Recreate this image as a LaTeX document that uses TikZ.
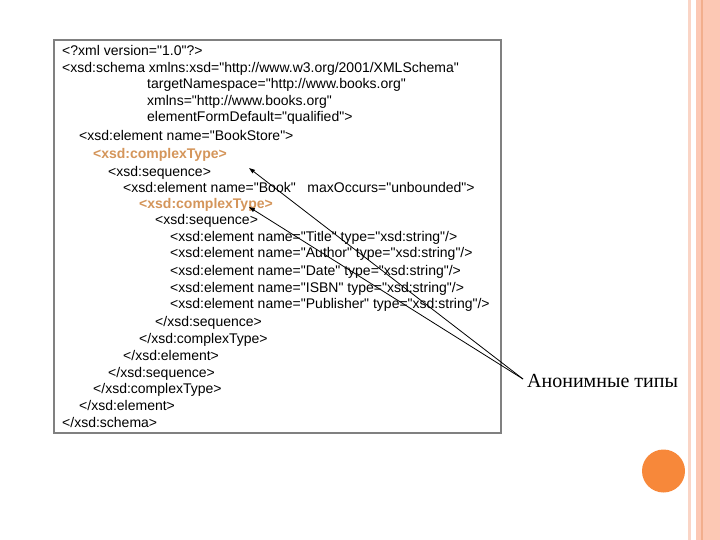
\documentclass[tikz,border=0pt]{standalone}
\usepackage{fontspec}
\setmainfont{Liberation Sans}[Ligatures=TeXOff]
\newfontfamily\serifru{Liberation Serif}
\usetikzlibrary{arrows.meta}
\definecolor{codeorange}{HTML}{D4955A}
\definecolor{boxgray}{HTML}{808080}
\definecolor{stripelight}{HTML}{FAD5C6}
\definecolor{stripeband}{HTML}{FCC8B4}
\definecolor{stripedark}{HTML}{F2AE8C}
\definecolor{dotorange}{HTML}{F7883A}
\tikzset{
  code/.style={anchor=base west, inner sep=0pt, font=\fontsize{14}{16}\selectfont},
  hot/.style={code, text=codeorange, font=\fontsize{14}{16}\selectfont\bfseries},
  pointer/.style={draw=black, line width=0.8pt, -{Triangle[length=6pt,width=4pt]}},
}
\begin{document}
\begin{tikzpicture}[x=1pt,y=-1pt]
\useasboundingbox (0,0) rectangle (720,540);
% right decorative stripes
\fill[stripelight] (688,0) rectangle (691,540);
\fill[stripeband] (696,0) rectangle (720,540);
\fill[stripedark] (700.5,0) rectangle (703,540);
\fill[dotorange] (663.5,471) circle (21.5);
% code box
\draw[boxgray, line width=1.5pt] (54,40) rectangle (501,433);
\node[code] (l1) at (62,56) {<?xml version="1.0"?>};
\node[code] (l2) at (62,73) {<xsd:schema xmlns:xsd="http://www.w3.org/2001/XMLSchema"};
\node[code] (l3) at (147,89) {targetNamespace="http://www.books.org"};
\node[code] (l4) at (147,106) {xmlns="http://www.books.org"};
\node[code] (l5) at (147,122) {elementFormDefault="qualified">};
\node[code] (l6) at (79,141) {<xsd:element name="BookStore">};
\node[hot] (l7) at (93,159) {<xsd:complexType>};
\node[code] (l8) at (108,177) {<xsd:sequence>};
\node[code] (l9) at (123,193) {<xsd:element name="Book"\ \ \ maxOccurs="unbounded">};
\node[hot] (l10) at (139,209) {<xsd:complexType>};
\node[code] (l11) at (155,225) {<xsd:sequence>};
\node[code] (l12) at (170,241) {<xsd:element name="Title" type="xsd:string"/>};
\node[code] (l13) at (170,258) {<xsd:element name="Author" type="xsd:string"/>};
\node[code] (l14) at (170,275) {<xsd:element name="Date" type="xsd:string"/>};
\node[code] (l15) at (170,292) {<xsd:element name="ISBN" type="xsd:string"/>};
\node[code] (l16) at (170,308) {<xsd:element name="Publisher" type="xsd:string"/>};
\node[code] (l17) at (155,326) {</xsd:sequence>};
\node[code] (l18) at (139,343) {</xsd:complexType>};
\node[code] (l19) at (123,360) {</xsd:element>};
\node[code] (l20) at (108,377) {</xsd:sequence>};
\node[code] (l21) at (93,393) {</xsd:complexType>};
\node[code] (l22) at (79,410) {</xsd:element>};
\node[code] (l23) at (62,427) {</xsd:schema>};
% label and pointers
\node[anchor=west, inner sep=0pt, font=\serifru\fontsize{20}{22}\selectfont] (lab) at (527,381) {Анонимные типы};
\coordinate (src) at (523,379);
\coordinate (t1) at (249,168);
\coordinate (t2) at (249,207);
\draw[pointer] (src) -- (t1);
\draw[pointer] (src) -- (t2);
\end{tikzpicture}
\end{document}
